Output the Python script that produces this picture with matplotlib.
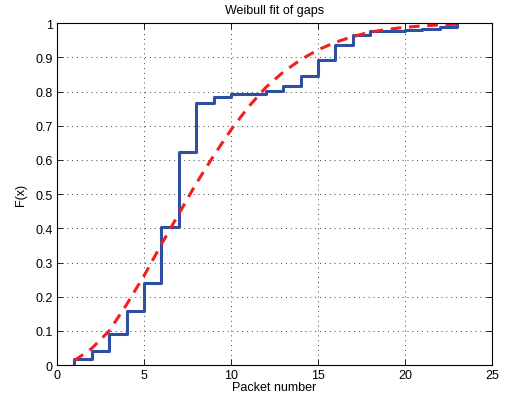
import numpy as np
import matplotlib
matplotlib.use('Agg')
import matplotlib.pyplot as plt

plt.rcParams['font.family'] = ['Liberation Sans', 'DejaVu Sans']
plt.rcParams['font.size'] = 9

# empirical CDF of gaps (stairs)
packets = np.arange(1, 24)
ecdf = [0.019, 0.041, 0.092, 0.157, 0.240, 0.405, 0.622, 0.767, 0.783, 0.794,
        0.794, 0.802, 0.816, 0.845, 0.892, 0.936, 0.965, 0.976, 0.978, 0.980,
        0.982, 0.990, 1.000]

# weibull fit
weib = [0.013, 0.049, 0.100, 0.177, 0.261, 0.353, 0.442, 0.531, 0.612, 0.688,
        0.755, 0.812, 0.857, 0.893, 0.922, 0.944, 0.961, 0.974, 0.982, 0.988,
        0.992, 0.995, 0.997]

xticks = [0, 5, 10, 15, 20, 25]
yticks = np.arange(0, 1.01, 0.1)
ytick_labels = ['0', '0.1', '0.2', '0.3', '0.4', '0.5', '0.6', '0.7', '0.8', '0.9', '1']

fig = plt.figure(figsize=(5.13, 4.10), dpi=100)
ax = fig.add_axes([0.111, 0.107, 0.848, 0.834])

ax.step(np.r_[packets[0], packets], np.r_[0, ecdf], where='post',
        color='#2f4fa3', lw=2.2)
ax.plot(packets, weib, color='#f02020', lw=2.2, ls=(0, (3.5, 2.5)))

ax.set_xlim(0, 25)
ax.set_ylim(0, 1)
ax.set_xticks(xticks)
ax.set_yticks(yticks)
ax.set_yticklabels(ytick_labels)
ax.tick_params(direction='in', top=True, right=True, length=4, width=0.6, pad=3)
ax.grid(True, ls=(0, (1, 4)), color='#404040', lw=0.7)
for s in ax.spines.values():
    s.set_linewidth(0.8)

ax.set_xlabel('Packet number', labelpad=0)
ax.set_ylabel('F(x)', labelpad=6)
ax.set_title('Weibull fit of gaps', fontsize=9, pad=7)

fig.savefig('out.png', dpi=100)
